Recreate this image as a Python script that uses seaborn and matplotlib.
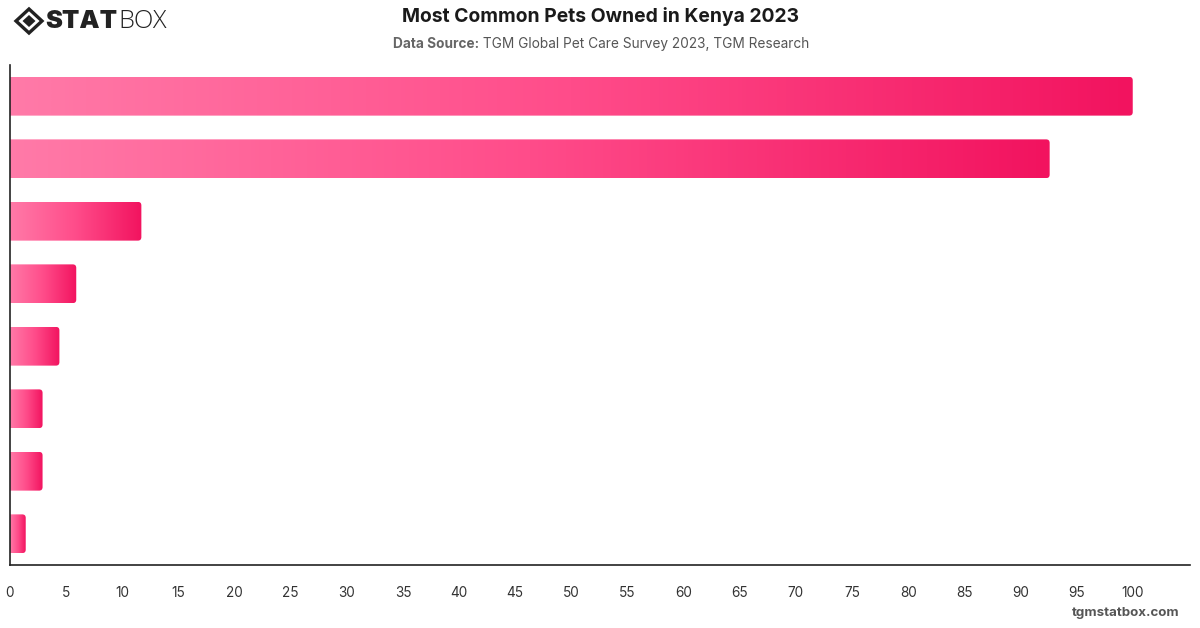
import numpy as np
import pandas as pd
import matplotlib
matplotlib.use("Agg")
import matplotlib.pyplot as plt
import seaborn as sns
from matplotlib.patches import FancyBboxPatch, Polygon
from matplotlib.colors import LinearSegmentedColormap

categories = ["Dog", "Cat", "Bird", "Fish", "Rabbit", "Reptile", "Small Mammal", "Other"]
values = [100.0, 92.6, 11.7, 5.9, 4.4, 2.9, 2.9, 1.4]
xticks = list(range(0, 101, 5))

title = "Most Common Pets Owned in Kenya 2023"
source_label = "Data Source:"
source_text = " TGM Global Pet Care Survey 2023, TGM Research"
footer = "tgmstatbox.com"

df = pd.DataFrame({"pet": categories, "share": values})

sns.set_theme(style="white")
plt.rcParams["font.family"] = ["Inter", "DejaVu Sans"]

fig = plt.figure(figsize=(12, 6.28), dpi=100)
ax = fig.add_axes([10 / 1200, 1 - 565 / 628, 1180 / 1200, 500 / 628])

sns.barplot(data=df, x="share", y="pet", orient="h", ax=ax, width=0.62,
            color="#FF4E8C", saturation=1)

ax.set_xlim(0, 105.1)
ax.set_ylim(len(categories) - 0.5, -0.5)

cmap = LinearSegmentedColormap.from_list("pinkgrad", ["#FF7AA8", "#FF4C8A", "#F2135F"])
grad = np.linspace(0, 1, 256).reshape(1, -1)

px_x = 1180 / 105.1
px_y = 500 / len(categories)
r_px = 3.5
for p in list(ax.patches):
    x0, y0 = p.get_x(), p.get_y()
    w, h = p.get_width(), p.get_height()
    p.set_visible(False)
    clip = FancyBboxPatch((x0 - 2, y0), w + 2, h,
                          boxstyle=f"round,pad=0,rounding_size={r_px / px_x}",
                          mutation_aspect=px_x / px_y,
                          transform=ax.transData, facecolor="none", edgecolor="none")
    ax.add_patch(clip)
    im = ax.imshow(grad, extent=(x0, x0 + w, y0 + h, y0), aspect="auto",
                   cmap=cmap, interpolation="bicubic", zorder=2)
    im.set_clip_path(clip)

ax.set_ylim(len(categories) - 0.5, -0.5)
ax.set_xlim(0, 105.1)
ax.set_xticks(xticks)
ax.set_xticklabels([str(t) for t in xticks], fontsize=9.8, color="#333333")
ax.tick_params(axis="x", length=0, pad=15)
ax.set_yticks([])
ax.set_xlabel("")
ax.set_ylabel("")
for s in ["top", "right"]:
    ax.spines[s].set_visible(False)
for s in ["left", "bottom"]:
    ax.spines[s].set_color("#222222")
    ax.spines[s].set_linewidth(1.2)

# Title and subtitle
fig.text(0.5, 1 - 17 / 628, title, ha="center", va="center", fontsize=13.9,
         fontweight="bold", color="#1a1a1a")
t1 = fig.text(0.5, 1 - 44 / 628, source_label + source_text, ha="center", va="center",
              fontsize=9.85, color="#555555", alpha=0)
fig.canvas.draw()
bb = t1.get_window_extent()
xl = bb.x0 / 1200
tb = fig.text(xl, 1 - 44 / 628, source_label, ha="left", va="center", fontsize=9.85,
              fontweight="bold", color="#666666")
fig.canvas.draw()
bb2 = tb.get_window_extent()
fig.text(bb2.x1 / 1200, 1 - 44 / 628, source_text, ha="left", va="center",
         fontsize=9.85, color="#555555")

# Footer
fig.text(1180 / 1200, 1 - 613 / 628, footer, ha="right", va="center", fontsize=9.6,
         fontweight="bold", color="#555555")

# Logo
lax = fig.add_axes([0, 1 - 42 / 628, 200 / 1200, 42 / 628])
lax.set_xlim(0, 200)
lax.set_ylim(42, 0)
lax.axis("off")
cx, cy = 29, 21
lax.add_patch(Polygon([[cx - 13, cy], [cx, cy - 12], [cx + 13, cy], [cx, cy + 12]],
                      closed=True, facecolor="none", edgecolor="#222222", linewidth=2.4))
lax.add_patch(Polygon([[cx - 6.5, cy], [cx, cy - 6], [cx + 6.5, cy], [cx, cy + 6]],
                      closed=True, facecolor="#222222", edgecolor="none"))
lt = lax.text(45, 22, "STAT", ha="left", va="center", fontsize=18.3, fontweight="black",
              color="#222222", family=["Inter", "DejaVu Sans"])
fig.canvas.draw()
lb = lt.get_window_extent()
fig.text(lb.x1 / 1200 + 0.001, 1 - 22 / 628, "BOX", ha="left", va="center", fontsize=18.3,
         fontweight="light", color="#222222", family=["Open Sans", "DejaVu Sans"])

fig.savefig("out.png", dpi=100)
